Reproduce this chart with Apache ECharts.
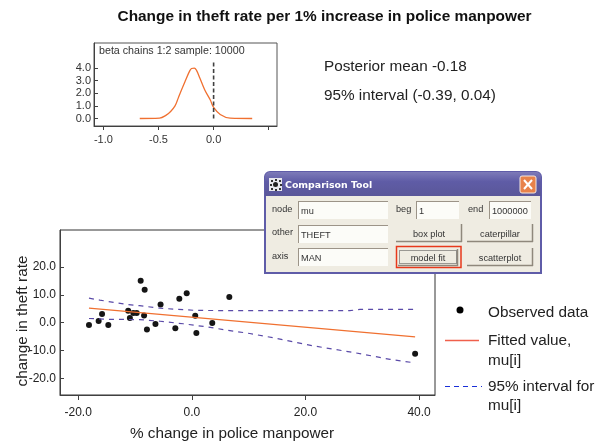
<!DOCTYPE html>
<html><head><meta charset="utf-8">
<style>html,body{margin:0;padding:0;background:#fff}#c{width:596px;height:443px}</style>
<script src="https://cdn.jsdelivr.net/npm/echarts@6/dist/echarts.min.js"></script>
</head><body><div id="c"></div>
<script>
const densityX=[-0.67,-0.49,-0.43,-0.39,-0.35,-0.33,-0.31,-0.26,-0.22,-0.2,-0.175,-0.155,-0.125,-0.08,-0.03,0,0.06,0.15,0.35];
const densityY=[0,0.03,0.27,0.55,1.0,1.4,1.86,2.9,3.7,3.95,3.98,3.8,3.2,2.25,1.46,0.88,0.32,0.03,0];
const zeroLineX=[0,0];
const zeroLineY=[0,4.6];
const obsX=[-18.1,-16.4,-15.8,-14.7,-11.2,-10.9,-10.3,-9.7,-9.0,-8.4,-8.3,-7.9,-6.4,-5.5,-2.9,-2.2,-0.9,0.6,0.8,3.6,6.6,39.3];
const obsY=[-0.8,0.6,3.1,-0.8,4.3,1.7,3.5,3.5,15.1,2.6,11.8,-2.5,-0.5,6.5,-2.0,8.6,10.6,2.5,-3.7,-0.1,9.2,-11.2];
const fitX=[-18.1,39.3];
const fitY=[5.2,-5.1];
const upperX=[-18.1,-16.2,-13.2,-11.2,-9.2,-5.6,-2.7,0.8,9.0,27.8,29.6,39.3];
const upperY=[8.8,8.1,7.1,6.5,6.1,5.2,4.8,4.4,4.3,4.3,4.75,4.75];
const lowerX=[-18.1,-14.4,-9.2,-5.6,-1.5,2.6,6.2,10.2,14.3,21.3,28.4,34.9,38.7];
const lowerY=[1.5,1.2,1.1,0.5,-0.4,-1.5,-2.7,-3.9,-5.4,-8.3,-10.7,-13.2,-14.3];
const insetXTicks=[-1,-0.5,0,0.5];
const insetXLabels=[-1,-0.5,0];
const insetYTicks=[0,1,2,3,4];
const mainXTicks=[-20,0,20,40];
const mainYTicks=[-20,-10,0,10,20];
const titleText='Change in theft rate per 1% increase in police manpower';
const statsText=['Posterior mean -0.18','95% interval (-0.39, 0.04)'];

const zip=(a,b)=>a.map((v,i)=>[v,b[i]]);
const FONT='"Liberation Sans",Arial,sans-serif';
const GREY='#404040';
const txt=(x,y,text,size,fill,extra)=>({type:'text',x,y,z:20,style:Object.assign({text,font:size+'px '+FONT,fill,verticalAlign:'middle'},extra||{})});
const rect=(x,y,w,h,fill,stroke,lw)=>({type:'rect',z:20,shape:{x,y,width:w,height:h},style:{fill,stroke:stroke||null,lineWidth:lw||0}});
const line=(x1,y1,x2,y2,stroke,lw,dash)=>({type:'line',z:20,shape:{x1,y1,x2,y2},style:{stroke,lineWidth:lw||1,lineDash:dash||null}});
const S=9.2;
function field(x,y,w,h,t){return [rect(x,y,w,h,'#fcfcf8'),line(x,y+.5,x+w,y+.5,'#9c9488'),line(x+.5,y,x+.5,y+h,'#9c9488'),txt(x+3,y+h/2+1,t,S,'#333')];}
function button(x,y,w,h,t){return [rect(x,y,w,h,'#efece2'),line(x,y+h-.5,x+w,y+h-.5,'#8f887c',1.5),line(x+w-.5,y,x+w-.5,y+h,'#8f887c',1.5),
  txt(x+w/2,y+h/2+1,t,S,'#333',{align:'center'})];}
const iconDots=[[271,180],[275,179],[279,180],[270,184],[280,184],[271,188],[275,189],[279,188]].map(p=>rect(p[0],p[1],2,2,'#333'));
const dialog=[
  {type:'rect',z:20,shape:{x:265,y:172,width:276,height:101,r:[5,5,0,0]},style:{fill:'#efece2',stroke:'#5f5ca8',lineWidth:2}},
  {type:'rect',z:20,shape:{x:265,y:172,width:276,height:24,r:[5,5,0,0]},style:{fill:{type:'linear',x:0,y:0,x2:0,y2:1,colorStops:[{offset:0,color:'#7d7ab8'},{offset:.4,color:'#5f5ca6'},{offset:1,color:'#5a5799'}]}}},
  rect(269,178,13,13,'#e8e8ee'),...iconDots,
  {type:'circle',z:21,shape:{cx:275.5,cy:184.5,r:2.5},style:{fill:'#222'}},
  txt(285,185.5,'Comparison Tool',9.4,'#fff',{font:'bold 9.4px "DejaVu Sans",sans-serif'}),
  {type:'rect',z:20,shape:{x:520,y:176,width:16,height:17,r:2},style:{fill:'#e8824a',stroke:'#f4e8e0',lineWidth:1}},
  line(524,180,532,189,'#fff',2),line(532,180,524,189,'#fff',2),
  txt(272,209.5,'node',S,'#333'),txt(272,232.5,'other',S,'#333'),txt(272,256.5,'axis',S,'#333'),
  txt(396,209.5,'beg',S,'#333'),txt(468,209.5,'end',S,'#333'),
  ...field(298,201,90,18,'mu'),...field(298,225,90,18,'THEFT'),...field(298,248,90,18,'MAN'),
  ...field(416,201,43,18,'1'),...field(489,201,42,18,'1000000'),
  ...button(396,224,66,18,'box plot'),...button(467,224,66,18,'caterpillar'),
  rect(396.5,246.5,64.5,21,'#efece2','#e8391c',1.5),
  ...button(398,249,60,17,'model fit'),
  {type:'rect',z:21,shape:{x:399.5,y:250.5,width:57,height:13},style:{fill:null,stroke:'#444',lineWidth:1,lineDash:[1,1]}},
  ...button(467,248,66,18,'scatterplot')
];
const LS=15.3;
const legend=[
  {type:'circle',z:20,shape:{cx:460,cy:310,r:3.5},style:{fill:'#000'}},
  txt(488,312.5,'Observed data',LS,'#222'),
  line(445,340.5,479,340.5,'#f0604c',1.5),
  txt(488,340.5,'Fitted value,',LS,'#222'),
  txt(488,360.5,'mu[i]',LS,'#222'),
  line(445,386.5,482,386.5,'#1a2fd8',1.2,[5,4]),
  txt(488,386.5,'95% interval for',LS,'#222'),
  txt(488,405.5,'mu[i]',LS,'#222')
];
const texts=[
  txt(324.5,17,titleText,15.4,'#111',{font:'bold 15.4px '+FONT,align:'center'}),
  txt(324,66.5,statsText[0],LS,'#222'),
  txt(324,95.5,statsText[1],LS,'#222'),
  txt(99,51,'beta chains 1:2 sample: 10000',10.7,'#333'),
  txt(232,433.5,'% change in police manpower',LS,'#222',{align:'center'}),
  {type:'text',z:20,x:23,y:321,rotation:Math.PI/2,style:{text:'change in theft rate',font:LS+'px '+FONT,fill:'#222',align:'center',verticalAlign:'middle'}}
];
const fmt1=v=>v.toFixed(1);
const axisLine={onZero:false,lineStyle:{color:GREY,width:1}};
const chart=echarts.init(document.getElementById('c'),null,{renderer:'canvas'});
chart.setOption({
  animation:false,backgroundColor:'#fff',
  grid:[
    {left:94,top:43,width:183,height:83,show:true,borderColor:'#555',borderWidth:1,backgroundColor:'#fff',outerBoundsMode:'none'},
    {left:60,top:230,width:375,height:165,show:true,borderColor:'#333',borderWidth:1,backgroundColor:'#fff',outerBoundsMode:'none'}
  ],
  xAxis:[
    {gridIndex:0,type:'value',min:-1.085,max:0.575,axisLine,splitLine:{show:false},
      axisTick:{show:true,customValues:insetXTicks,lineStyle:{color:GREY},length:4},
      axisLabel:{customValues:insetXLabels,formatter:fmt1,color:'#333',fontSize:11,fontFamily:FONT,margin:8}},
    {gridIndex:1,type:'value',min:-23.2,max:42.8,axisLine,splitLine:{show:false},
      axisTick:{show:true,customValues:mainXTicks,lineStyle:{color:GREY},length:5},
      axisLabel:{customValues:mainXTicks,formatter:fmt1,color:'#222',fontSize:12,fontFamily:FONT,margin:12}}
  ],
  yAxis:[
    {gridIndex:0,type:'value',min:-0.59,max:5.96,axisLine,splitLine:{show:false},
      axisTick:{show:true,inside:true,customValues:insetYTicks,lineStyle:{color:GREY},length:4},
      axisLabel:{customValues:insetYTicks,formatter:fmt1,color:'#333',fontSize:11,fontFamily:FONT,margin:3}},
    {gridIndex:1,type:'value',min:-26,max:33.3,axisLine,splitLine:{show:false},
      axisTick:{show:true,inside:true,customValues:mainYTicks,lineStyle:{color:GREY},length:4},
      axisLabel:{customValues:mainYTicks,formatter:fmt1,color:'#222',fontSize:12,fontFamily:FONT,margin:4}}
  ],
  series:[
    {type:'line',name:'posterior density',xAxisIndex:0,yAxisIndex:0,data:zip(densityX,densityY),showSymbol:false,smooth:0.4,lineStyle:{color:'#f07030',width:1.3}},
    {type:'line',name:'zero',xAxisIndex:0,yAxisIndex:0,data:zip(zeroLineX,zeroLineY),showSymbol:false,lineStyle:{color:'#404040',width:1.6,type:[4,2.5]}},
    {type:'line',name:'95% upper',xAxisIndex:1,yAxisIndex:1,data:zip(upperX,upperY),showSymbol:false,lineStyle:{color:'#5a4aa8',width:1.2,type:[5,5]}},
    {type:'line',name:'95% lower',xAxisIndex:1,yAxisIndex:1,data:zip(lowerX,lowerY),showSymbol:false,lineStyle:{color:'#5a4aa8',width:1.2,type:[5,5]}},
    {type:'line',name:'Fitted value',xAxisIndex:1,yAxisIndex:1,data:zip(fitX,fitY),showSymbol:false,lineStyle:{color:'#f07030',width:1.3}},
    {type:'scatter',name:'Observed data',xAxisIndex:1,yAxisIndex:1,data:zip(obsX,obsY),symbolSize:6,itemStyle:{color:'#151515',opacity:1}}
  ],
  graphic:{elements:[...texts,...legend,...dialog]}
});
</script></body></html>
